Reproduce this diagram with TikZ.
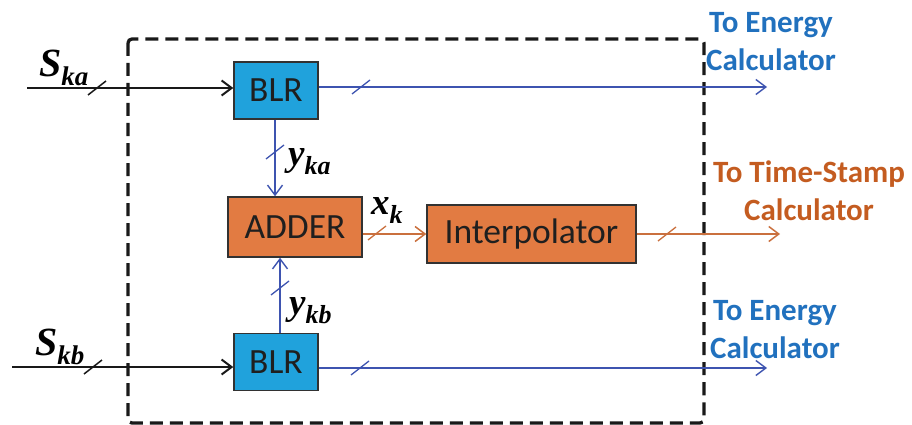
\documentclass[tikz,border=0pt]{standalone}
\usepackage{fontspec}
\setmainfont{Carlito}
\newfontfamily\labfont{Liberation Serif}
\usetikzlibrary{arrows.meta,calc}

\definecolor{blrfill}{RGB}{32,162,220}
\definecolor{addfill}{RGB}{226,123,66}
\definecolor{bline}{RGB}{62,84,176}
\definecolor{oline}{RGB}{202,112,62}
\definecolor{btext}{RGB}{33,113,190}
\definecolor{otext}{RGB}{196,92,32}
\definecolor{edge}{RGB}{50,50,50}

% bold italic variable with a subscript
\newcommand\varlab[2]{{\labfont\bfseries\itshape\fontsize{37}{37}\selectfont #1\raisebox{-9pt}{\fontsize{26}{26}\selectfont #2}}}
\newcommand\biglab[2]{{\labfont\bfseries\itshape\fontsize{40}{40}\selectfont #1\raisebox{-9pt}{\fontsize{27}{27}\selectfont #2}}}

\tikzset{
  blockbox/.style={draw=edge, line width=1.5pt, inner sep=0pt,
    font=\fontsize{35.5}{35.5}\selectfont, text=black!88},
  blrbox/.style={blockbox, fill=blrfill, minimum width=84pt, minimum height=57pt},
  tip/.style={-{Straight Barb[length=10pt,width=15pt]}},
  inwire/.style={draw=black!90, line width=2pt, tip},
  bwire/.style={draw=bline, line width=1.4pt, tip},
  owire/.style={draw=oline, line width=1.5pt, tip},
  slash/.pic={\draw (-9,7) -- (9,-7);},
  varnode/.style={anchor=base west, inner sep=0pt},
  dest/.style={align=center, inner sep=0pt,
    font=\bfseries\fontsize{31}{38}\selectfont},
}

\begin{document}
\begin{tikzpicture}[x=1pt,y=-1pt]
\useasboundingbox (0,0) rectangle (912,425);

% enclosing block
\draw[black!90, line width=3.3pt, dash pattern=on 13pt off 7pt, rounded corners=4pt]
  (128,39) rectangle (704,423);

% blocks
\node[blrbox] (blrA) at (276,90.5) {BLR};
\node[blrbox] (blrB) at (276,362) {BLR};
\node[blockbox, fill=addfill, minimum width=134pt, minimum height=60pt] (adder) at (295,227) {ADDER};
\node[blockbox, fill=addfill, minimum width=209pt, minimum height=58pt] (interp) at (531.5,234) {Interpolator};

% wire end points
\coordinate (inA) at (27,88);
\coordinate (inB) at (12,367);
\coordinate (outA) at (767,87);
\coordinate (outB) at (767,368);
\coordinate (outI) at (780,234);
\coordinate (vA) at (275,0);
\coordinate (vB) at (280,0);

% inputs
\draw[inwire] (inA) -- (inA -| blrA.west);
\draw[inwire] (inB) -- (inB -| blrB.west);
\path (97,88) pic[color=black!90, line width=1.5pt]{slash};
\path (93,367) pic[color=black!90, line width=1.5pt]{slash};

% BLR outputs
\draw[bwire] (outA -| blrA.east) -- (outA);
\draw[bwire] (outB -| blrB.east) -- (outB);
\path (361,87) pic[color=bline, line width=1.3pt]{slash};
\path (360,368) pic[color=bline, line width=1.3pt]{slash};

% BLR to adder
\draw[bwire] (vA |- blrA.south) -- (vA |- adder.north);
\draw[bwire] (vB |- blrB.north) -- (vB |- adder.south);
\path (275,152) pic[color=bline, line width=1.3pt]{slash};
\path (280,288) pic[color=bline, line width=1.3pt]{slash};

% adder to interpolator and onward
\draw[owire] (adder.east |- interp.west) -- (interp.west);
\draw[owire] (interp.east) -- (outI);
\path (377,233) pic[color=oline, line width=1.3pt]{slash};
\path (667,234) pic[color=oline, line width=1.3pt]{slash};

% variable labels
\node[varnode] (ska) at (39,77) {\biglab{S}{ka}};
\node[varnode] (skb) at (35,355) {\biglab{S}{kb}};
\node[varnode] (yka) at (288,165) {\varlab{y}{ka}};
\node[varnode] (ykb) at (289,314) {\varlab{y}{kb}};
\node[varnode] (xk) at (371,214) {\varlab{x}{k}};

% destinations
\node[dest, text=btext] (dA) at (771,42) {To Energy\\Calculator};
\node[dest, text=otext] (dI) at (809,191) {To Time-Stamp\\Calculator};
\node[dest, text=btext] (dB) at (775,330) {To Energy\\Calculator};
\end{tikzpicture}
\end{document}
